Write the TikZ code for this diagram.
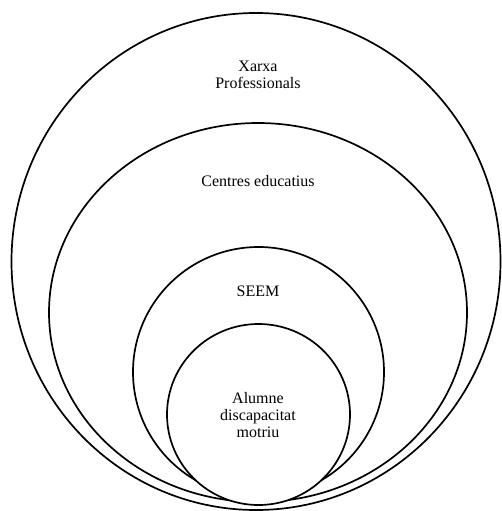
\documentclass[tikz,border=0pt]{standalone}
\usepackage{fontspec}
\setmainfont{Liberation Serif}
\begin{document}
\begin{tikzpicture}[x=1pt,y=-1pt,
  ring/.style={draw=black,line width=1.7pt,fill=white},
  lbl/.style={font=\fontsize{16}{17}\selectfont,align=center,inner sep=0pt}]
\useasboundingbox (0,0) rectangle (501,511);
\draw[ring] (256,261.5) ellipse [x radius=244.5, y radius=248.5];
\draw[ring] (258,312.5) ellipse [x radius=209, y radius=189.5];
\draw[ring] (258.5,372) ellipse [x radius=125.5, y radius=125];
\draw[ring] (258.5,414.5) ellipse [x radius=91.5, y radius=90.5];
\node[lbl] (xarxa) at (258,75) {Xarxa\\Professionals};
\node[lbl] (centres) at (258,181) {Centres educatius};
\node[lbl] (seem) at (258,291) {SEEM};
\node[lbl] (alumne) at (258,415) {Alumne\\discapacitat\\motriu};
\end{tikzpicture}
\end{document}
